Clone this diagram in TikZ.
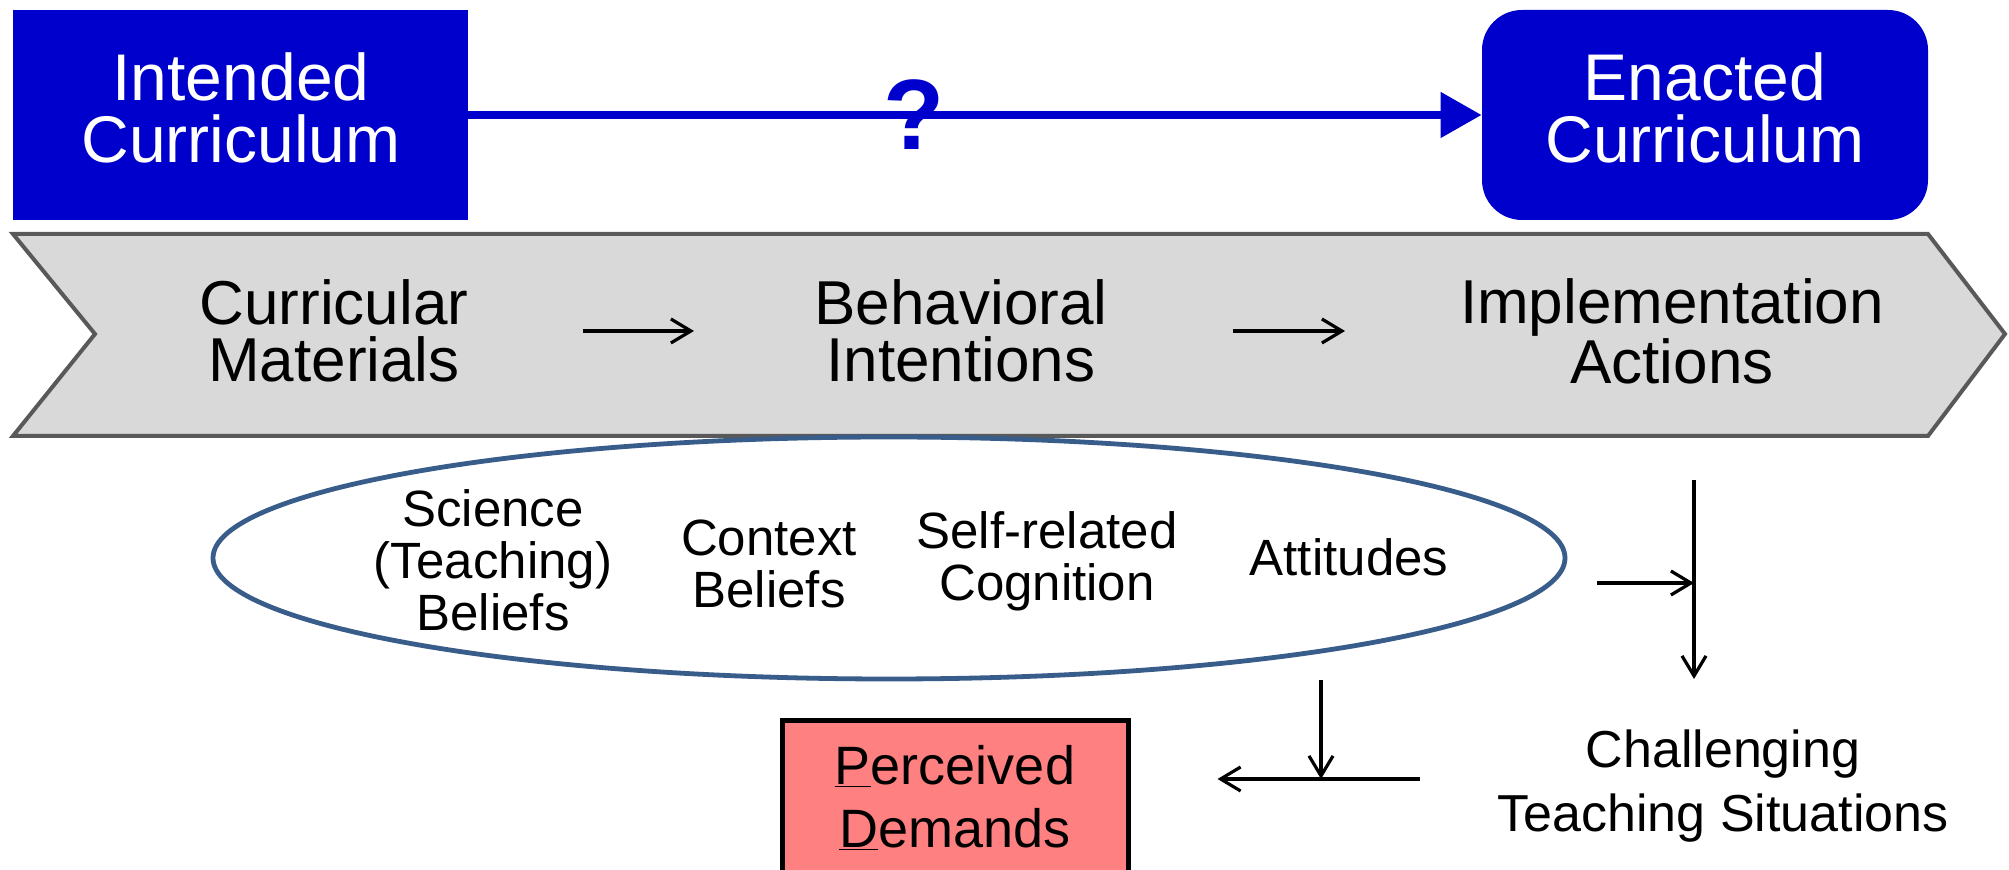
\documentclass[tikz,border=0pt]{standalone}
\usepackage{fontspec}
\setmainfont{Liberation Sans}
\usetikzlibrary{arrows.meta,shapes.geometric}
\definecolor{cblue}{RGB}{0,0,204}
\definecolor{bandfill}{RGB}{217,217,217}
\definecolor{bandline}{RGB}{89,89,89}
\definecolor{ellline}{RGB}{56,93,138}
\definecolor{pdfill}{RGB}{255,128,128}
\begin{document}
\begin{tikzpicture}[x=0.5pt,y=-0.5pt,
  curbox/.style={fill=cblue,inner sep=0pt,minimum height=105pt},
  curtext/.style={text=white,inner sep=0pt,align=center,font=\fontsize{33}{31}\selectfont},
  bandtext/.style={align=center,inner sep=0pt,font=\fontsize{31}{28.5}\selectfont},
  elltext/.style={align=center,inner sep=0pt,font=\fontsize{25.5}{26}\selectfont},
  arr/.style={line width=1.6pt,-{Straight Barb[length=10pt,width=12pt]}},
  bluearr/.style={draw=cblue,line width=4pt,-{Triangle[length=20.5pt,width=22pt]}}]
\useasboundingbox (0,0) rectangle (2009,870);
\fill[white] (0,0) rectangle (2009,870);

% top boxes
\node[curbox,minimum width=227.5pt] (intended) at (240.5,115) {};
\node[curtext] (intendedtext) at (241,108) {Intended\\Curriculum};
\node[curbox,minimum width=223pt,rounded corners=20pt] (enacted) at (1705,115) {};
\node[curtext] (enactedtext) at (1705,108) {Enacted\\Curriculum};
\draw[bluearr] (intended.east) -- (enacted.west)
  node[pos=0.44,text=cblue,inner sep=0pt,font=\fontsize{50}{50}\selectfont\bfseries] (q) {?};

% chevron band
\draw[fill=bandfill,draw=bandline,line width=2pt]
  (13,234) -- (1928,234) -- (2005,334) -- (1928,436) -- (13,436) -- (95,334) -- cycle;
\node[bandtext] (cm) at (334,331) {Curricular\\Materials};
\node[bandtext] (bi) at (961,331) {Behavioral\\Intentions};
\node[bandtext] (ia) at (1672,331) {Implementation\\Actions};
\draw[arr,shorten <=124.5pt,shorten >=133.5pt] (cm.center) -- (bi.center);
\draw[arr,shorten <=136pt,shorten >=163.5pt] (bi.center) -- (ia.center);

% ellipse
\node[ellipse,draw=ellline,fill=white,line width=2.4pt,minimum width=676pt,minimum height=121pt,inner sep=0pt] (ell) at (889,558) {};
\node[elltext] (sci) at (493,560) {Science\\(Teaching)\\Beliefs};
\node[elltext] (ctx) at (769,564) {Context\\Beliefs};
\node[elltext] (self) at (1047,561) {Self-related\\Cognition};
\node[elltext] (att) at (1349,557) {Attitudes};

% right side
\node[align=center,inner sep=0pt,font=\fontsize{26}{32}\selectfont] (cts) at (1723,786) {Challenging\\Teaching Situations};
\coordinate (vtop) at (1694,480);
\coordinate (vbot) at (1694,679);
\coordinate (j1) at (1694,583);
\draw[arr] (vtop) -- (vbot);
\draw[arr,shorten <=15pt] (ell.east |- j1) -- (j1);

% perceived demands
\node[draw=black,fill=pdfill,line width=2.5pt,minimum width=173pt,minimum height=77pt,
  align=center,inner sep=0pt,font=\fontsize{27}{31.5}\selectfont] (pd) at (955,798)
  {\underline{P}erceived\\\underline{D}emands};
\coordinate (hs) at (1420,779);
\coordinate (j2) at (1321,779);
\coordinate (vs2) at (1321,680);
\draw[arr,shorten >=43.5pt] (hs) -- (pd.east |- hs);
\draw[arr] (vs2) -- (j2);
\end{tikzpicture}
\end{document}
